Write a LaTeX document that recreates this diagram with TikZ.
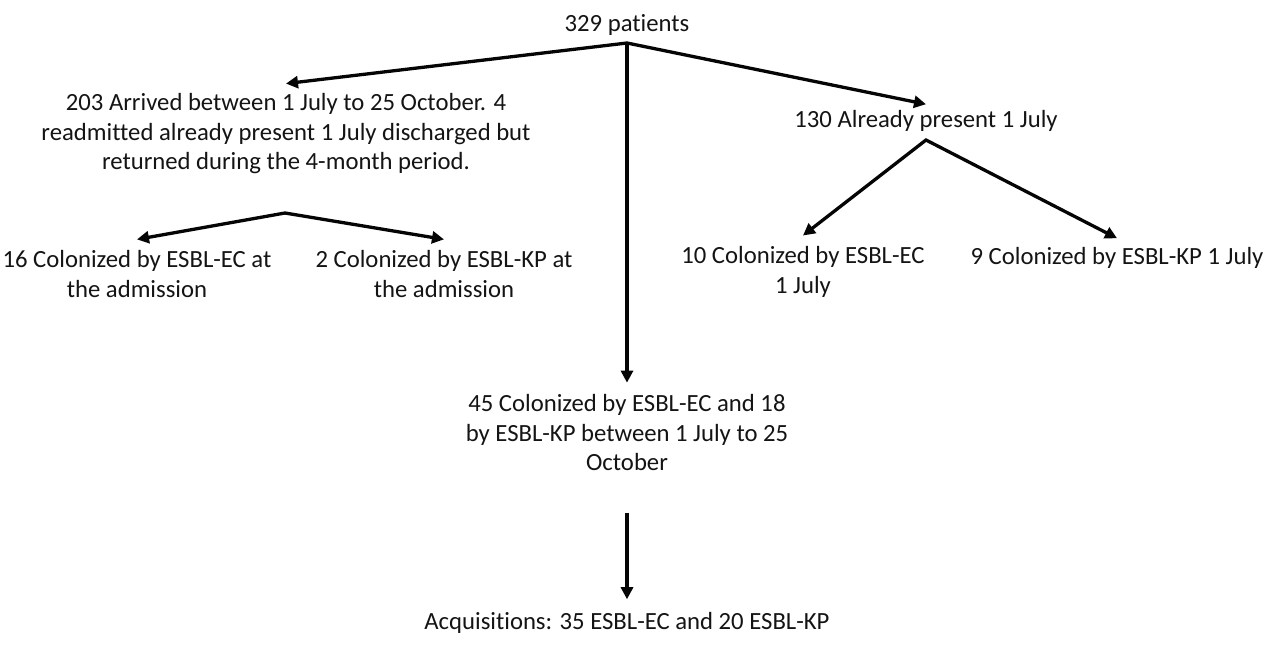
\documentclass[tikz,border=0pt]{standalone}
\usepackage{fontspec}
\setmainfont{Carlito}[Ligatures=NoCommon]
\usetikzlibrary{arrows.meta}
\definecolor{txt}{RGB}{20,20,20}
\definecolor{ln}{RGB}{5,5,5}
\begin{document}
\begin{tikzpicture}[x=1pt,y=-1pt,
  lbl/.style={inner sep=0pt, align=center, font=\fontsize{24.7}{29.5}\selectfont, text=txt},
  link/.style={line width=3.3pt, draw=ln, line join=miter},
  flow/.style={link, -{Triangle[length=12pt,width=12pt]}},
  fork/.style={link, {Triangle[length=12pt,width=12pt]}-{Triangle[length=12pt,width=12pt]}}]
\useasboundingbox[fill=white] (0,0) rectangle (1280,648);

\node[lbl] (top) at (627,25) {329 patients};
\node[lbl] (arr) at (286,134) {203 Arrived between 1 July to 25 October. 4\\readmitted already present 1 July discharged but\\returned during the 4-month period.};
\node[lbl] (pres) at (926,121) {130 Already present 1 July};
\node[lbl] (ec16) at (137,274) {16 Colonized by ESBL-EC at\\the admission};
\node[lbl] (kp2) at (444,274) {2 Colonized by ESBL-KP at\\the admission};
\node[lbl] (ec10) at (803,272) {10 Colonized by ESBL-EC\\1 July};
\node[lbl] (kp9) at (1117,258) {9 Colonized by ESBL-KP 1 July};
\node[lbl] (col45) at (627,433) {45 Colonized by ESBL-EC and 18\\by ESBL-KP between 1 July to 25\\October};
\node[lbl] (acq) at (627,623) {Acquisitions: 35 ESBL-EC and 20 ESBL-KP};

\coordinate (j0) at (627,43);
\coordinate (j1) at (285,213);
\coordinate (j2) at (926,140);
\coordinate (s45) at (627,513);

\draw[fork] ([yshift=10pt]arr.north) -- (j0) -- ([yshift=6pt]pres.north);
\draw[flow] (j0) -- ([yshift=12pt]col45.north);
\draw[fork] ([yshift=11pt]ec16.north) -- (j1) -- ([yshift=11pt]kp2.north);
\draw[fork] ([yshift=11pt]ec10.north) -- (j2) -- ([yshift=9pt]kp9.north);
\draw[flow] (s45) -- ([yshift=13pt]acq.north);
\end{tikzpicture}
\end{document}
